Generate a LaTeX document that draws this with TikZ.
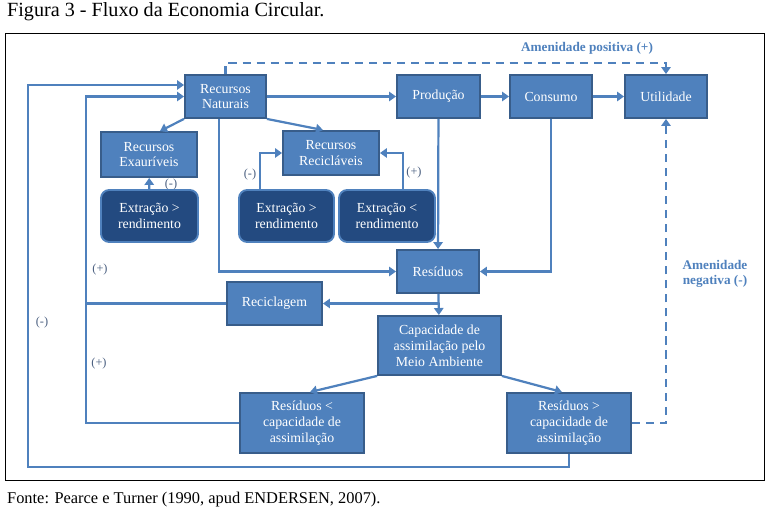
\documentclass[tikz,border=0pt]{standalone}
\usepackage{fontspec}
\setmainfont{Liberation Serif}
\usepackage{xcolor}
\usepackage{tikz}
\usetikzlibrary{arrows.meta, positioning, shapes}

\definecolor{boxblue}{HTML}{4F81BD}
\definecolor{boxline}{HTML}{385D8A}
\definecolor{darkblue}{HTML}{234A80}
\definecolor{signgray}{HTML}{4A5F80}

\tikzset{
  box/.style={draw=boxline, fill=boxblue, line width=1.6pt, text=white, align=center,
    inner sep=1pt, font=\fontsize{11.8}{13.5}\selectfont},
  darkbox/.style={draw=boxblue, fill=darkblue, line width=1.6pt, rounded corners=7pt,
    text=white, align=center, inner sep=1pt, font=\fontsize{11.8}{13.5}\selectfont},
  flow/.style={draw=boxblue, line width=1.9pt, -{Triangle[width=8pt,length=6pt]}},
  plain/.style={draw=boxblue, line width=1.9pt},
  amen/.style={flow, dash pattern=on 7pt off 5pt},
  sign/.style={text=signgray, font=\fontsize{10.5}{12}\selectfont},
  amenlabel/.style={text=boxblue, font=\bfseries\fontsize{11.3}{13}\selectfont, align=center}
}

\begin{document}
\begin{tikzpicture}[x=0.03cm, y=-0.03cm]
  \useasboundingbox (0,0) rectangle (773,515);
  \node [anchor=west, font=\fontsize{17.2}{19}\selectfont] (title) at (3,12) {Figura 3 - Fluxo da Economia Circular.};
  \node [anchor=west, font=\fontsize{14}{16}\selectfont] (fonte) at (3,500) {Fonte: Pearce e Turner (1990, apud ENDERSEN, 2007).};
  \draw [line width=0.8pt] (5,33) rectangle (764,480);

  \node [sign] (s1) at (171,185) {(-)};

  \node [box, minimum width=2.43cm, minimum height=1.29cm] (nat) at (225.5,96.5) {Recursos\\Naturais};
  \node [box, minimum width=2.49cm, minimum height=1.29cm] (prod) at (438.5,96.5) {Produção};
  \node [box, minimum width=2.46cm, minimum height=1.29cm] (cons) at (551,96.5) {Consumo};
  \node [box, minimum width=2.46cm, minimum height=1.29cm] (util) at (666,96.5) {Utilidade};
  \node [box, minimum width=2.88cm, minimum height=1.35cm] (exau) at (149,154.5) {Recursos\\Exauríveis};
  \node [box, minimum width=2.88cm, minimum height=1.32cm] (recic) at (331,153) {Recursos\\Recicláveis};
  \node [darkbox, minimum width=2.91cm, minimum height=1.56cm] (ext1) at (149.5,216) {Extração >\\rendimento};
  \node [darkbox, minimum width=2.85cm, minimum height=1.56cm] (ext2) at (286.5,216) {Extração >\\rendimento};
  \node [darkbox, minimum width=2.88cm, minimum height=1.56cm] (ext3) at (387,216) {Extração <\\rendimento};
  \node [box, minimum width=2.46cm, minimum height=1.29cm] (resid) at (438,271.5) {Resíduos};
  \node [box, minimum width=2.85cm, minimum height=1.29cm] (recl) at (274.5,303.5) {Reciclagem};
  \node [box, minimum width=3.69cm, minimum height=1.77cm] (capac) at (439.5,345.5) {Capacidade de\\assimilação pelo\\Meio Ambiente};
  \node [box, minimum width=3.72cm, minimum height=1.8cm] (rmenor) at (302,423) {Resíduos <\\capacidade de\\assimilação};
  \node [box, minimum width=3.72cm, minimum height=1.8cm] (rmaior) at (569,423) {Resíduos >\\capacidade de\\assimilação};

  \coordinate (inb) at (86,423);
  \coordinate (outb) at (28,467);
  \coordinate (postop) at (666,63);

  \draw [flow] (nat) -- (prod);
  \draw [flow] (prod) -- (cons);
  \draw [flow] (cons) -- (util);
  \draw [flow] (nat.south west) -- ([xshift=0.33cm]exau.north);
  \draw [flow] (nat.south east) -- ([xshift=-0.24cm]recic.north);
  \draw [flow] (ext1) -- (exau);
  \draw [flow] ([xshift=-0.8cm]ext2.north) |- (recic.west);
  \draw [flow] ([xshift=0.48cm]ext3.north) |- (recic.east);
  \draw [flow] ([xshift=-0.195cm]nat.south) |- (resid.west);
  \draw [flow] (prod) -- (resid);
  \draw [flow] (cons.south) |- (resid.east);
  \draw [flow] (resid) -- (capac);
  \draw [flow] (resid.south |- recl.east) -- (recl.east);
  \draw [flow] (rmenor.west) -- (inb) |- (nat.west);
  \draw [plain] (recl.west) -- (recl.west -| inb);
  \draw [flow] (rmaior.south) |- (outb) |- ([yshift=0.345cm]nat.west);
  \draw [flow] (capac.south west) -- ([xshift=0.24cm]rmenor.north);
  \draw [flow] (capac.south east) -- ([xshift=-0.21cm]rmaior.north);
  \draw [amen] (nat.north) |- (postop) -- (util.north);
  \draw [amen] (rmaior.east) -| (util.south);

  \node [amenlabel] (pos) at (587,48) {Amenidade positiva (+)};
  \node [amenlabel] (neg) at (715,274) {Amenidade\\negativa (-)};
  \node [sign] (s2) at (250,175) {(-)};
  \node [sign] (s3) at (414,173) {(+)};
  \node [sign] (s4) at (100,270) {(+)};
  \node [sign] (s5) at (42,323) {(-)};
  \node [sign] (s6) at (99,364) {(+)};
\end{tikzpicture}
\end{document}
